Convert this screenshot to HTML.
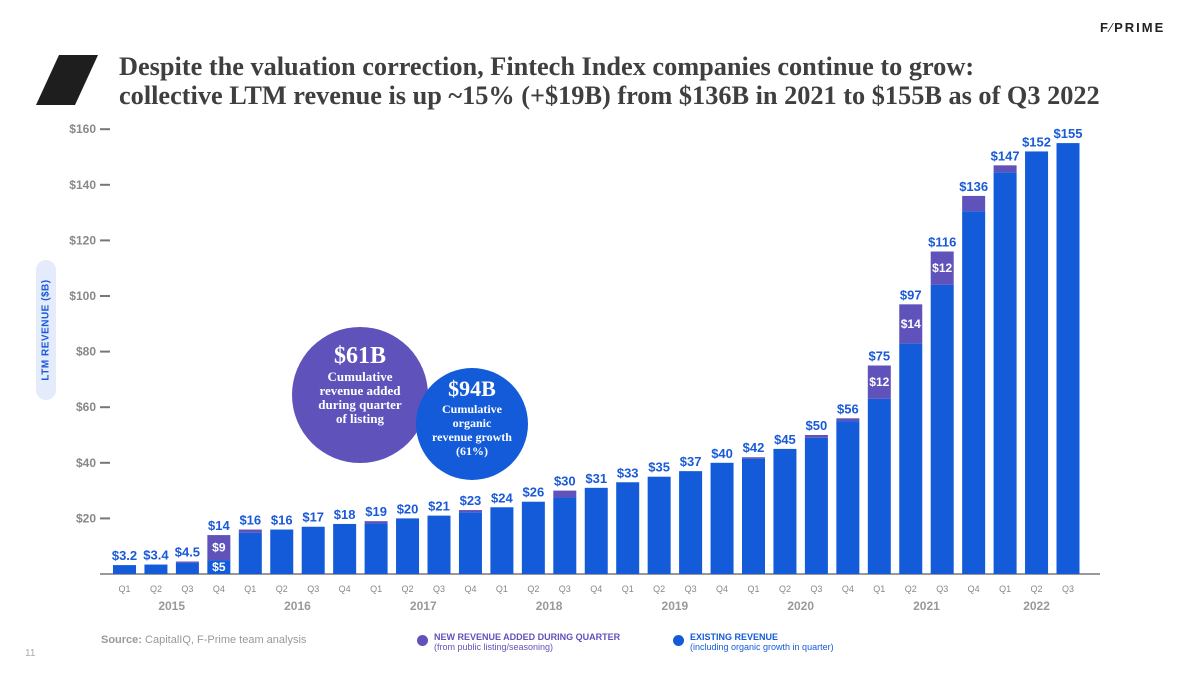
<!DOCTYPE html>
<html><head><meta charset="utf-8"><style>
body{margin:0;width:1200px;height:675px;background:#fff;overflow:hidden;font-family:"Liberation Sans",sans-serif;position:relative}
.abs{position:absolute}
</style></head><body>
<div class="abs" style="left:36px;top:55px;width:62px;height:50px"><svg width="62" height="50"><polygon points="23,0 62,0 39,50 0,50" fill="#1e1e1e"/></svg></div>
<div class="abs" style="left:119px;top:52px;font-family:'Liberation Serif',serif;font-weight:bold;font-size:26.3px;line-height:29px;color:#3f3f3f;white-space:nowrap">Despite the valuation correction, Fintech Index companies continue to grow:<br>collective LTM revenue is up ~15% (+$19B) from $136B in 2021 to $155B as of Q3 2022</div>
<div class="abs" style="left:1100px;top:20px;font-size:13px;font-weight:bold;letter-spacing:2px;color:#222">F<span style="font-weight:normal">⁄</span>PRIME</div>
<div class="abs" style="left:36px;top:260px;width:20px;height:140px;border-radius:10px;background:#e4ebfa"><div style="position:absolute;left:10px;top:70px;transform:translate(-50%,-50%) rotate(-90deg);white-space:nowrap;font-size:10px;font-weight:bold;color:#1a5ad8;letter-spacing:0.5px">LTM REVENUE ($B)</div></div>
<svg class="abs" style="left:0;top:0" width="1200" height="675" id="chart"></svg>
<div class="abs" style="left:292px;top:327px;width:136px;height:136px;border-radius:50%;background:#5f53bb;color:#fff;text-align:center;font-family:'Liberation Serif',serif;font-weight:bold"><div style="font-size:24px;margin-top:16px">$61B</div><div style="font-size:13px;line-height:14px">Cumulative<br>revenue added<br>during quarter<br>of listing</div></div>
<div class="abs" style="left:416px;top:368px;width:112px;height:112px;border-radius:50%;background:#135bd8;color:#fff;text-align:center;font-family:'Liberation Serif',serif;font-weight:bold"><div style="font-size:22px;margin-top:8px">$94B</div><div style="font-size:12px;line-height:14px">Cumulative<br>organic<br>revenue growth<br>(61%)</div></div>
<div class="abs" style="left:101px;top:634px;font-size:11px;color:#999"><b>Source:</b> CapitalIQ, F-Prime team analysis</div>
<div class="abs" style="left:25px;top:648px;font-size:10px;color:#aaa">11</div>
<div class="abs" style="left:417px;top:632px;font-size:9px;font-weight:bold;color:#5f53bb;line-height:10px"><span style="position:absolute;left:0;top:3px;width:11px;height:11px;border-radius:50%;background:#5f53bb"></span><div style="margin-left:17px">NEW REVENUE ADDED DURING QUARTER<br><span style="font-weight:normal">(from public listing/seasoning)</span></div></div>
<div class="abs" style="left:673px;top:632px;font-size:9px;font-weight:bold;color:#135bd8;line-height:10px"><span style="position:absolute;left:0;top:3px;width:11px;height:11px;border-radius:50%;background:#135bd8"></span><div style="margin-left:17px">EXISTING REVENUE<br><span style="font-weight:normal">(including organic growth in quarter)</span></div></div>
<script>
const quarters=["Q1","Q2","Q3","Q4","Q1","Q2","Q3","Q4","Q1","Q2","Q3","Q4","Q1","Q2","Q3","Q4","Q1","Q2","Q3","Q4","Q1","Q2","Q3","Q4","Q1","Q2","Q3","Q4","Q1","Q2","Q3"];
const years=["2015","2016","2017","2018","2019","2020","2021","2022"];
const totals=[3.2,3.4,4.5,14,16,16,17,18,19,20,21,23,24,26,30,31,33,35,37,40,42,45,50,56,75,97,116,136,147,152,155];
const totalLabels=["$3.2","$3.4","$4.5","$14","$16","$16","$17","$18","$19","$20","$21","$23","$24","$26","$30","$31","$33","$35","$37","$40","$42","$45","$50","$56","$75","$97","$116","$136","$147","$152","$155"];
const newRev=[0,0,0.5,9,1.2,0,0,0,0.8,0,0,0.8,0,0,2.5,0,0,0,0,0,0.5,0,1,1,12,14,12,5.5,2.5,0,0];
const newLabels={3:"$9",24:"$12",25:"$14",26:"$12"};
const existLabels={3:"$5"};
const yTicks=[20,40,60,80,100,120,140,160];
const NS="http://www.w3.org/2000/svg";
const svg=document.getElementById('chart');
const x=i=>124.5+i*31.45;
const y=v=>574-v*2.78;
function mk(t,a){const e=document.createElementNS(NS,t);for(const k in a)e.setAttribute(k,a[k]);svg.appendChild(e);return e;}
yTicks.forEach(v=>{
 const l=mk('line',{x1:100,x2:110,y1:y(v),y2:y(v),stroke:'#777','stroke-width':2});
 
 
 const t=mk('text',{x:96,y:y(v)+4,'text-anchor':'end','font-size':12,'font-weight':'bold',fill:'#888'});t.textContent='$'+v;
 
 
});
const ax=mk('line',{x1:100,x2:1100,y1:574,y2:574,stroke:'#999','stroke-width':2});


totals.forEach((v,i)=>{
 const n=newRev[i],ex=v-n,w=23,bx=x(i)-w/2;
 const b=mk('rect',{x:bx,y:y(ex),width:w,height:574-y(ex),fill:'#135bd8'});
 
 
 if(n>0){const p=mk('rect',{x:bx,y:y(v),width:w,height:y(ex)-y(v),fill:'#5f53bb'});
 
 }
 const t=mk('text',{x:x(i),y:y(v)-5,'text-anchor':'middle','font-size':13,'font-weight':'bold',fill:'#1a5ad8'});t.textContent=totalLabels[i];
 
 
 if(newLabels[i]){const s=mk('text',{x:x(i),y:(y(v)+y(ex))/2+4,'text-anchor':'middle','font-size':12,'font-weight':'bold',fill:'#fff'});s.textContent=newLabels[i];
 
 }
 if(existLabels[i]){const s=mk('text',{x:x(i),y:(y(ex)+574)/2+4,'text-anchor':'middle','font-size':12,'font-weight':'bold',fill:'#fff'});s.textContent=existLabels[i];
 
 }
 const q=mk('text',{x:x(i),y:592,'text-anchor':'middle','font-size':9,fill:'#888'});q.textContent=quarters[i];
 
 
});
years.forEach((yr,k)=>{
 const first=k*4,last=Math.min(first+3,totals.length-1);
 const t=mk('text',{x:(x(first)+x(last))/2,y:610,'text-anchor':'middle','font-size':12,'font-weight':'bold',fill:'#999'});t.textContent=yr;
 
 
});
</script>
</body></html>
